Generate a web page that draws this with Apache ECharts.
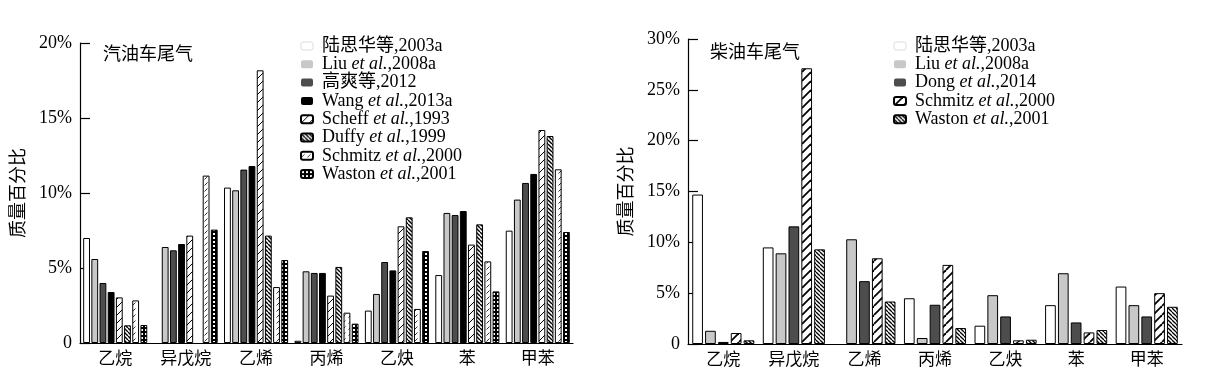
<!DOCTYPE html>
<html>
<head>
<meta charset="utf-8">
<script src="https://cdn.jsdelivr.net/npm/echarts@6.0.0/dist/echarts.min.js"></script>
<style>
    html, body { margin: 0; padding: 0; background: #fff; }
    #wrap { position: relative; width: 1207px; height: 385px; }
    #gas { position: absolute; left: 0; top: 0; width: 604px; height: 385px; }
    #diesel { position: absolute; left: 604px; top: 0; width: 603px; height: 385px; }
</style>
</head>
<body>
<div id="wrap">
    <div id="gas"></div>
    <div id="diesel"></div>
</div>
<script>
var categories = ['乙烷', '异戊烷', '乙烯', '丙烯', '乙炔', '苯', '甲苯'];

// 汽油车尾气 (%)
var gasNames = ['陆思华等,2003a', 'Liu et al.,2008a', '高爽等,2012', 'Wang et al.,2013a',
    'Scheff et al.,1993', 'Duffy et al.,1999', 'Schmitz et al.,2000', 'Waston et al.,2001'];
var gasLu = [7.0, null, 10.36, 0.15, 2.16, 4.53, 7.49];
var gasLiu = [5.6, 6.4, 10.18, 4.78, 3.27, 8.67, 9.56];
var gasGao = [4.0, 6.18, 11.56, 4.67, 5.4, 8.53, 10.67];
var gasWang = [3.4, 6.6, 11.8, 4.67, 4.84, 8.8, 11.27];
var gasScheff = [3.04, 7.16, 18.18, 3.16, 7.78, 6.56, 14.2];
var gasDuffy = [1.18, null, 7.16, 5.07, 8.38, 7.91, 13.8];
var gasSchmitz = [2.84, 11.16, 3.73, 2.02, 2.27, 5.44, 11.58];
var gasWaston = [1.2, 7.56, 5.53, 1.29, 6.13, 3.44, 7.4];

// 柴油车尾气 (%)
var dieNames = ['陆思华等,2003a', 'Liu et al.,2008a', 'Dong et al.,2014', 'Schmitz et al.,2000', 'Waston et al.,2001'];
var dieLu = [14.7, 9.5, null, 4.5, 1.8, 3.82, 5.65];
var dieLiu = [1.3, 8.92, 10.3, 0.59, 4.8, 6.96, 3.82];
var dieDong = [0.2, 11.57, 6.18, 3.86, 2.71, 2.12, 2.71];
var dieSchmitz = [1.08, 27.12, 8.43, 7.78, 0.36, 1.14, 5.0];
var dieWaston = [0.36, 9.31, 4.18, 1.57, 0.42, 1.37, 3.66];

var FONT = '"Liberation Serif", "Noto Sans CJK SC", serif';

// 填充图案
function makePattern(size, bg, draw) {
    var c = document.createElement('canvas');
    c.width = size;
    c.height = size;
    var ctx = c.getContext('2d');
    ctx.fillStyle = bg;
    ctx.fillRect(0, 0, size, size);
    draw(ctx, size);
    return { image: c, repeat: 'repeat' };
}
function slash(width, color) {
    return function (ctx, s) {
        ctx.strokeStyle = color;
        ctx.lineWidth = width;
        for (var k = -1; k <= 1; k++) {
            ctx.beginPath();
            ctx.moveTo(k * s, s);
            ctx.lineTo(k * s + s, 0);
            ctx.stroke();
        }
    };
}
function backslash(width, color) {
    return function (ctx, s) {
        ctx.strokeStyle = color;
        ctx.lineWidth = width;
        for (var k = -1; k <= 1; k++) {
            ctx.beginPath();
            ctx.moveTo(k * s, 0);
            ctx.lineTo(k * s + s, s);
            ctx.stroke();
        }
    };
}

var pScheff = makePattern(8, '#fff', slash(1, '#000'));
var pDuffy = makePattern(4, '#fff', backslash(1.4, '#000'));
var pSchmitzGas = makePattern(6, '#fff', function (ctx, s) {
    ctx.strokeStyle = '#333';
    ctx.lineWidth = 1;
    ctx.beginPath();
    ctx.moveTo(0.5, 5.5);
    ctx.lineTo(3.5, 2.5);
    ctx.stroke();
});
var pWastonGas = makePattern(4, '#000', function (ctx, s) {
    ctx.fillStyle = '#fff';
    ctx.fillRect(1, 1, 2, 2);
});
var pSchmitzDie = makePattern(9, '#fff', slash(1.8, '#000'));
var pWastonDie = makePattern(4, '#fff', backslash(1.3, '#000'));

function makeSeries(names, datas, fills) {
    var list = [];
    for (var i = 0; i < names.length; i++) {
        list.push({
            name: names[i],
            type: 'bar',
            data: datas[i],
            itemStyle: { color: fills[i], borderColor: '#000', borderWidth: 1 }
        });
    }
    return list;
}

function legendData(names, noBorder) {
    var arr = [];
    for (var i = 0; i < names.length; i++) {
        var o = { name: names[i] };
        if (i < noBorder) {
            o.itemStyle = { borderColor: i == 0 ? '#ddd' : 'transparent', borderWidth: i == 0 ? 1 : 0 };
        }
        arr.push(o);
    }
    return arr;
}

//参数: domId, 标题, 图例, 系列, 布局
function initChart(domId, title, names, series, cfg) {
    var myChart = echarts.init(document.getElementById(domId));
    var option = {
        animation: false,
        backgroundColor: '#fff',
        title: {
            text: title,
            left: cfg.titleLeft,
            top: cfg.titleTop,
            textStyle: { fontSize: 18, fontWeight: 'normal', color: '#000', fontFamily: FONT }
        },
        legend: {
            orient: 'vertical',
            left: cfg.legendLeft,
            top: cfg.legendTop,
            itemWidth: 12,
            itemHeight: 8,
            itemGap: 0.3,
            data: legendData(names, cfg.noBorder),
            formatter: function (name) {
                return name.replace('et al.', '{i|et al.}');
            },
            textStyle: {
                fontSize: 18,
                lineHeight: 18,
                fontFamily: FONT,
                color: '#000',
                padding: [0, 0, 0, 4],
                rich: {
                    i: { fontStyle: 'italic', fontSize: 18, lineHeight: 18, fontFamily: FONT, color: '#000' }
                }
            }
        },
        grid: cfg.grid,
        xAxis: {
            type: 'category',
            data: categories,
            axisLine: { lineStyle: { color: '#000', width: 1.2 } },
            axisTick: { show: false },
            axisLabel: { fontSize: 17, fontFamily: FONT, color: '#000', margin: 8 }
        },
        yAxis: {
            type: 'value',
            min: 0,
            max: cfg.max,
            interval: 5,
            name: '质量百分比',
            nameLocation: 'middle',
            nameRotate: 90,
            nameGap: cfg.nameGap,
            nameTextStyle: { fontSize: 18, fontFamily: FONT, color: '#000' },
            axisLine: { show: true, lineStyle: { color: '#000', width: 1.2 } },
            axisTick: { show: true, inside: true, length: 10, lineStyle: { color: '#000', width: 1.2 } },
            splitLine: { show: false },
            axisLabel: {
                fontSize: 18,
                fontFamily: FONT,
                color: '#000',
                margin: 8,
                formatter: function (v) { return v === 0 ? '0' : v + '%'; }
            }
        },
        series: series
    };
    for (var i = 0; i < option.series.length; i++) {
        option.series[i].barGap = '20%';
        option.series[i].barCategoryGap = cfg.catGap;
    }
    myChart.setOption(option);
}

initChart('gas', '汽油车尾气', gasNames,
    makeSeries(gasNames,
        [gasLu, gasLiu, gasGao, gasWang, gasScheff, gasDuffy, gasSchmitz, gasWaston],
        ['#fff', '#c8c8c8', '#4d4d4d', '#000', pScheff, pDuffy, pSchmitzGas, pWastonGas]),
    {
        grid: { left: 80, right: 31, top: 43, bottom: 42 },
        max: 20, nameGap: 45, catGap: '9%', noBorder: 4,
        titleLeft: 98, titleTop: 41, legendLeft: 295, legendTop: 32
    });

initChart('diesel', '柴油车尾气', dieNames,
    makeSeries(dieNames,
        [dieLu, dieLiu, dieDong, dieSchmitz, dieWaston],
        ['#fff', '#c8c8c8', '#4d4d4d', pSchmitzDie, pWastonDie]),
    {
        grid: { left: 84, right: 25, top: 39, bottom: 41 },
        max: 30, nameGap: 44, catGap: '12%', noBorder: 3,
        titleLeft: 101, titleTop: 39, legendLeft: 284, legendTop: 32
    });
</script>
</body>
</html>
